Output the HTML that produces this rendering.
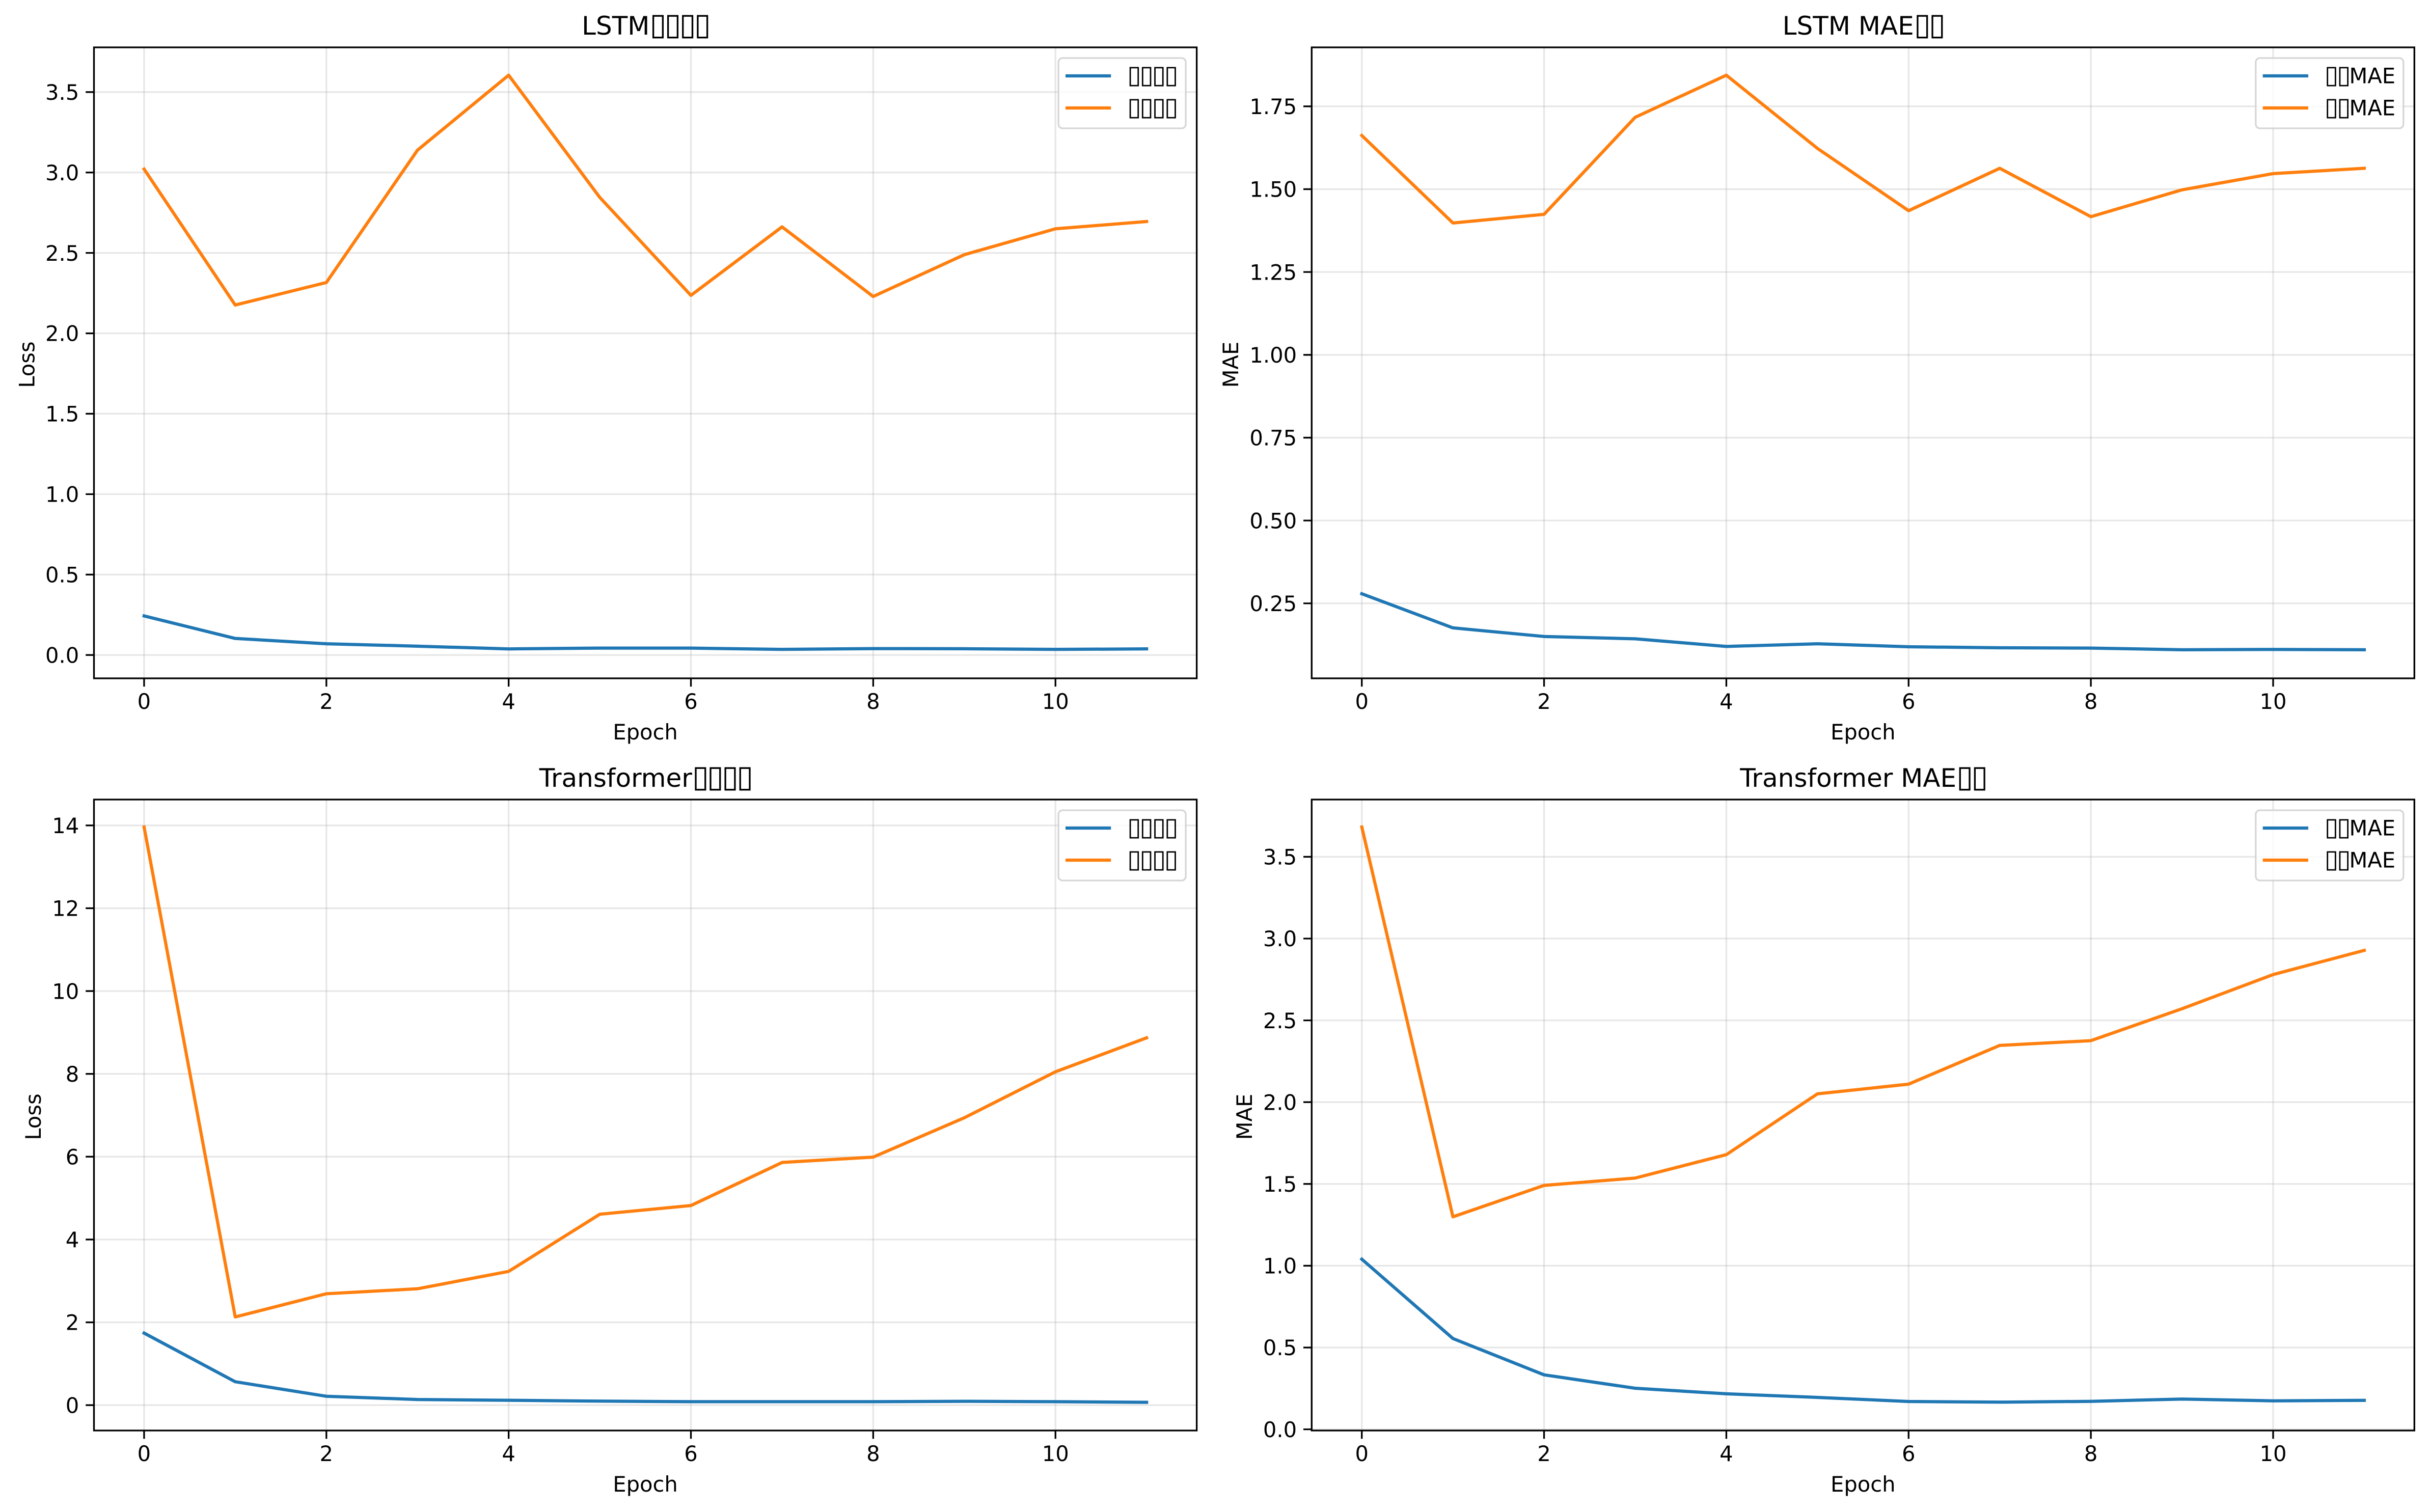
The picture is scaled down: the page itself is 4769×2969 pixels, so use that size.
<!DOCTYPE html>
<html lang="zh">
<head>
<meta charset="utf-8">
<title>LSTM and Transformer training curves</title>
<style>
html,body{margin:0;padding:0;background:#fff;}
svg{display:block;}
text{font-family:"DejaVu Sans","Liberation Sans",sans-serif;fill:#000;}
.tofu{font-size:120%;letter-spacing:-0.065em;}
</style>
</head>
<body>
<svg id="chart" xmlns="http://www.w3.org/2000/svg" width="4769" height="2969" viewBox="0 0 4769 2969"></svg>
<script>
const epochs = [0,1,2,3,4,5,6,7,8,9,10,11];
const xTicks = [0,2,4,6,8,10];
const xLimits = [-0.55,11.55];

const lstmLossTrain = [0.243,0.103,0.070,0.055,0.038,0.043,0.043,0.035,0.040,0.039,0.035,0.038];
const lstmLossVal = [3.021,2.176,2.316,3.139,3.605,2.845,2.236,2.662,2.229,2.489,2.650,2.695];
const lstmLossTicks = ['0.0','0.5','1.0','1.5','2.0','2.5','3.0','3.5'];
const lstmLossLimits = [-0.145,3.778];

const lstmMaeTrain = [0.279,0.176,0.150,0.143,0.120,0.128,0.119,0.116,0.115,0.110,0.111,0.110];
const lstmMaeVal = [1.662,1.398,1.424,1.717,1.844,1.623,1.435,1.563,1.417,1.498,1.547,1.563];
const lstmMaeTicks = ['0.25','0.50','0.75','1.00','1.25','1.50','1.75'];
const lstmMaeLimits = [0.0237,1.928];

const transformerLossTrain = [1.74,0.565,0.214,0.136,0.117,0.097,0.083,0.083,0.083,0.093,0.083,0.068];
const transformerLossVal = [13.96,2.13,2.69,2.81,3.23,4.61,4.82,5.86,5.99,6.94,8.05,8.87];
const transformerLossTicks = ['0','2','4','6','8','10','12','14'];
const transformerLossLimits = [-0.613,14.625];

const transformerMaeTrain = [1.040,0.555,0.333,0.251,0.217,0.195,0.170,0.166,0.171,0.185,0.174,0.177];
const transformerMaeVal = [3.682,1.299,1.491,1.536,1.679,2.051,2.110,2.347,2.376,2.571,2.780,2.928];
const transformerMaeTicks = ['0.0','0.5','1.0','1.5','2.0','2.5','3.0','3.5'];
const transformerMaeLimits = [-0.0074,3.850];

const NS = 'http://www.w3.org/2000/svg';
const svg = document.getElementById('chart');
const BLUE = '#1f77b4', ORANGE = '#ff7f0e';
const TICK_FONT = 41.67, TITLE_FONT = 50;
const SPINE = 3.33, TICK_LEN = 14.6, LINE_W = 6.25;

function make(tag, attrs, parent) {
  const e = document.createElementNS(NS, tag);
  for (const k in attrs) e.setAttribute(k, attrs[k]);
  parent.appendChild(e);
  return e;
}

// Writes a label, placing runs of the box character in their own tspan so their pitch can be set.
function fillLabel(textEl, str) {
  str.split(/(▯+)/).filter(Boolean).forEach(function (part) {
    const t = make('tspan', {}, textEl);
    if (part[0] === '▯') t.setAttribute('class', 'tofu');
    t.textContent = part;
  });
}

function drawPanel(cfg) {
  const g = make('g', {}, svg);
  
  

  const L = cfg.box[0], R = cfg.box[1], T = cfg.box[2], B = cfg.box[3];
  const xScale = v => L + (v - xLimits[0]) / (xLimits[1] - xLimits[0]) * (R - L);
  const yScale = v => B - (v - cfg.yLimits[0]) / (cfg.yLimits[1] - cfg.yLimits[0]) * (B - T);

  make('rect', {x:L, y:T, width:R-L, height:B-T, fill:'#fff'}, g);

  // Gridlines
  xTicks.forEach(function (v) {
    const gl = make('line', {x1:xScale(v), x2:xScale(v), y1:T, y2:B, stroke:'#b0b0b0', 'stroke-opacity':0.3, 'stroke-width':SPINE}, g);
    
    
  });
  cfg.yTicks.forEach(function (lab) {
    const y = yScale(parseFloat(lab));
    const gl = make('line', {x1:L, x2:R, y1:y, y2:y, stroke:'#b0b0b0', 'stroke-opacity':0.3, 'stroke-width':SPINE}, g);
    
    
  });

  // Series lines
  const trainPts = epochs.map((e, i) => xScale(e) + ',' + yScale(cfg.train[i])).join(' ');
  const trainLine = make('polyline', {points:trainPts, fill:'none', stroke:BLUE, 'stroke-width':LINE_W, 'stroke-linejoin':'round', 'stroke-linecap':'square'}, g);
  
  

  const valPts = epochs.map((e, i) => xScale(e) + ',' + yScale(cfg.val[i])).join(' ');
  const valLine = make('polyline', {points:valPts, fill:'none', stroke:ORANGE, 'stroke-width':LINE_W, 'stroke-linejoin':'round', 'stroke-linecap':'square'}, g);
  
  

  // Ticks and tick labels
  xTicks.forEach(function (v) {
    const x = xScale(v);
    const tk = make('line', {x1:x, x2:x, y1:B, y2:B+TICK_LEN+SPINE/2, stroke:'#000', 'stroke-width':SPINE}, g);
    
    
    const tl = make('text', {x:x, y:B+60, 'font-size':TICK_FONT, 'text-anchor':'middle'}, g);
    
    
    tl.textContent = String(v);
  });
  cfg.yTicks.forEach(function (lab) {
    const y = yScale(parseFloat(lab));
    const tk = make('line', {x1:L-TICK_LEN-SPINE/2, x2:L, y1:y, y2:y, stroke:'#000', 'stroke-width':SPINE}, g);
    
    
    const tl = make('text', {x:L-29.2, y:y+15.2, 'font-size':TICK_FONT, 'text-anchor':'end'}, g);
    
    
    tl.textContent = lab;
  });

  // Spines
  const frame = make('rect', {x:L, y:T, width:R-L, height:B-T, fill:'none', stroke:'#000', 'stroke-width':SPINE, 'stroke-linejoin':'miter'}, g);
  
  

  // Title and axis titles
  const title = make('text', {x:(L+R)/2, y:T-25, 'font-size':TITLE_FONT, 'text-anchor':'middle'}, g);
  
  
  title.setAttribute('aria-label', cfg.titleAria);
  fillLabel(title, cfg.title);

  const xTitle = make('text', {x:(L+R)/2, y:B+120, 'font-size':TICK_FONT, 'text-anchor':'middle'}, g);
  
  
  xTitle.textContent = 'Epoch';

  const yMid = (T+B)/2 + 3.5;
  const yTitle = make('text', {x:cfg.yTitleX, y:yMid, 'font-size':TICK_FONT, 'text-anchor':'middle', transform:'rotate(-90 '+cfg.yTitleX+' '+yMid+')'}, g);
  
  
  yTitle.textContent = cfg.yTitle;

  // Legend
  const legend = make('g', {}, g);
  
  
  const boxR = R - 21.5, boxL = boxR - cfg.legendWidth;
  make('rect', {x:boxL, y:T+21, width:cfg.legendWidth, height:138, rx:8.3, ry:8.3, fill:'#fff', 'fill-opacity':0.8, stroke:'#ccc', 'stroke-opacity':0.8, 'stroke-width':SPINE}, legend);

  cfg.legendLabels.forEach(function (lab, i) {
    const color = i === 0 ? BLUE : ORANGE;
    const rowY = T + 56 + i * 63;
    const swatch = make('line', {x1:boxL+17, x2:boxL+100, y1:rowY, y2:rowY, stroke:color, 'stroke-width':LINE_W, 'stroke-linecap':'square'}, legend);
    
    
    const lt = make('text', {x:boxL+135, y:T+70.7+i*63, 'font-size':TICK_FONT}, legend);
    
    
    lt.setAttribute('aria-label', cfg.legendAria[i]);
    fillLabel(lt, lab);
  });
}

drawPanel({
  name:'lstm-loss-panel', box:[184.5,2349.6,93,1332],
  train:lstmLossTrain, val:lstmLossVal, yTicks:lstmLossTicks, yLimits:lstmLossLimits,
  title:'LSTM▯▯▯▯', titleAria:'LSTM损失曲线', yTitle:'Loss', yTitleX:67.5,
  legendLabels:['▯▯▯▯','▯▯▯▯'], legendAria:['训练损失','验证损失'], legendWidth:250
});
drawPanel({
  name:'lstm-mae-panel', box:[2575.3,4740.3,93,1332],
  train:lstmMaeTrain, val:lstmMaeVal, yTicks:lstmMaeTicks, yLimits:lstmMaeLimits,
  title:'LSTM MAE▯▯', titleAria:'LSTM MAE曲线', yTitle:'MAE', yTitleX:2431,
  legendLabels:['▯▯MAE','▯▯MAE'], legendAria:['训练MAE','验证MAE'], legendWidth:290
});
drawPanel({
  name:'transformer-loss-panel', box:[184.5,2349.6,1570,2809],
  train:transformerLossTrain, val:transformerLossVal, yTicks:transformerLossTicks, yLimits:transformerLossLimits,
  title:'Transformer▯▯▯▯', titleAria:'Transformer损失曲线', yTitle:'Loss', yTitleX:80,
  legendLabels:['▯▯▯▯','▯▯▯▯'], legendAria:['训练损失','验证损失'], legendWidth:250
});
drawPanel({
  name:'transformer-mae-panel', box:[2575.3,4740.3,1570,2809],
  train:transformerMaeTrain, val:transformerMaeVal, yTicks:transformerMaeTicks, yLimits:transformerMaeLimits,
  title:'Transformer MAE▯▯', titleAria:'Transformer MAE曲线', yTitle:'MAE', yTitleX:2458,
  legendLabels:['▯▯MAE','▯▯MAE'], legendAria:['训练MAE','验证MAE'], legendWidth:290
});
</script>
</body>
</html>
